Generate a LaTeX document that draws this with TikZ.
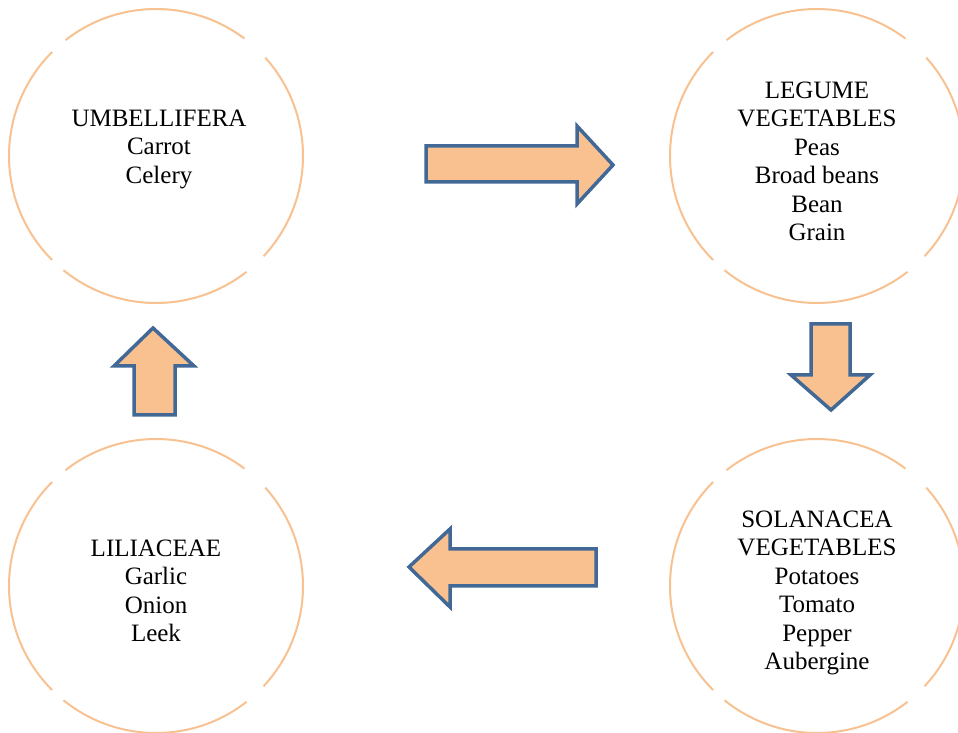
\documentclass[tikz,border=0pt]{standalone}
\usepackage{fontspec}
\setmainfont{Liberation Serif}
\definecolor{ringc}{RGB}{248,193,145}
\definecolor{arrfill}{RGB}{248,193,143}
\definecolor{arrline}{RGB}{66,104,150}
\begin{document}
\begin{tikzpicture}[x=1pt,y=1pt,
  blob/.style={circle,minimum size=294pt,inner sep=0pt,draw=none},
  ring/.style={draw=ringc,line width=2pt},
  txt/.style={align=center,inner sep=0pt,anchor=base,font=\fontsize{25}{28.5}\selectfont},
  blockarrow/.style={draw=arrline,fill=arrfill,line width=3.5pt,line join=miter}]
\useasboundingbox (0,0) rectangle (958,733);
\newcommand{\gapring}[1]{%
  \draw[ring] ([shift={(53:147)}]#1.center) arc[start angle=53,end angle=128,radius=147];
  \draw[ring] ([shift={(135:147)}]#1.center) arc[start angle=135,end angle=225,radius=147];
  \draw[ring] ([shift={(231:147)}]#1.center) arc[start angle=231,end angle=308,radius=147];
  \draw[ring] ([shift={(317:147)}]#1.center) arc[start angle=317,end angle=402,radius=147];}
\node[blob] (umb) at (156,577) {};
\node[blob] (leg) at (817,577) {};
\node[blob] (sol) at (817,147) {};
\node[blob] (lil) at (156,147) {};
\gapring{umb}
\gapring{leg}
\gapring{sol}
\gapring{lil}
% base anchor = baseline of the last line
\node[txt] (umbt) at (159,549.5) {UMBELLIFERA\\Carrot\\Celery};
\node[txt] (legt) at (817,492.3) {LEGUME\\VEGETABLES\\Peas\\Broad beans\\Bean\\Grain};
\node[txt] (solt) at (817,63) {SOLANACEA\\VEGETABLES\\Potatoes\\Tomato\\Pepper\\Aubergine};
\node[txt] (lilt) at (156,91.3) {LILIACEAE\\Garlic\\Onion\\Leek};
% right arrow
\draw[blockarrow] (426,587) -- (577,587) -- (577,607) -- (613,568) -- (577,529) -- (577,551) -- (426,551) -- cycle;
% down arrow
\draw[blockarrow] (811,409) -- (850,409) -- (850,358) -- (870,358) -- (831,323) -- (791,358) -- (811,358) -- cycle;
% left arrow
\draw[blockarrow] (596,184) -- (450,184) -- (450,204) -- (409,166) -- (450,126) -- (450,147) -- (596,147) -- cycle;
% up arrow
\draw[blockarrow] (134,318) -- (134,367) -- (114,367) -- (153,405) -- (194,367) -- (175,367) -- (175,318) -- cycle;
\end{tikzpicture}
\end{document}
